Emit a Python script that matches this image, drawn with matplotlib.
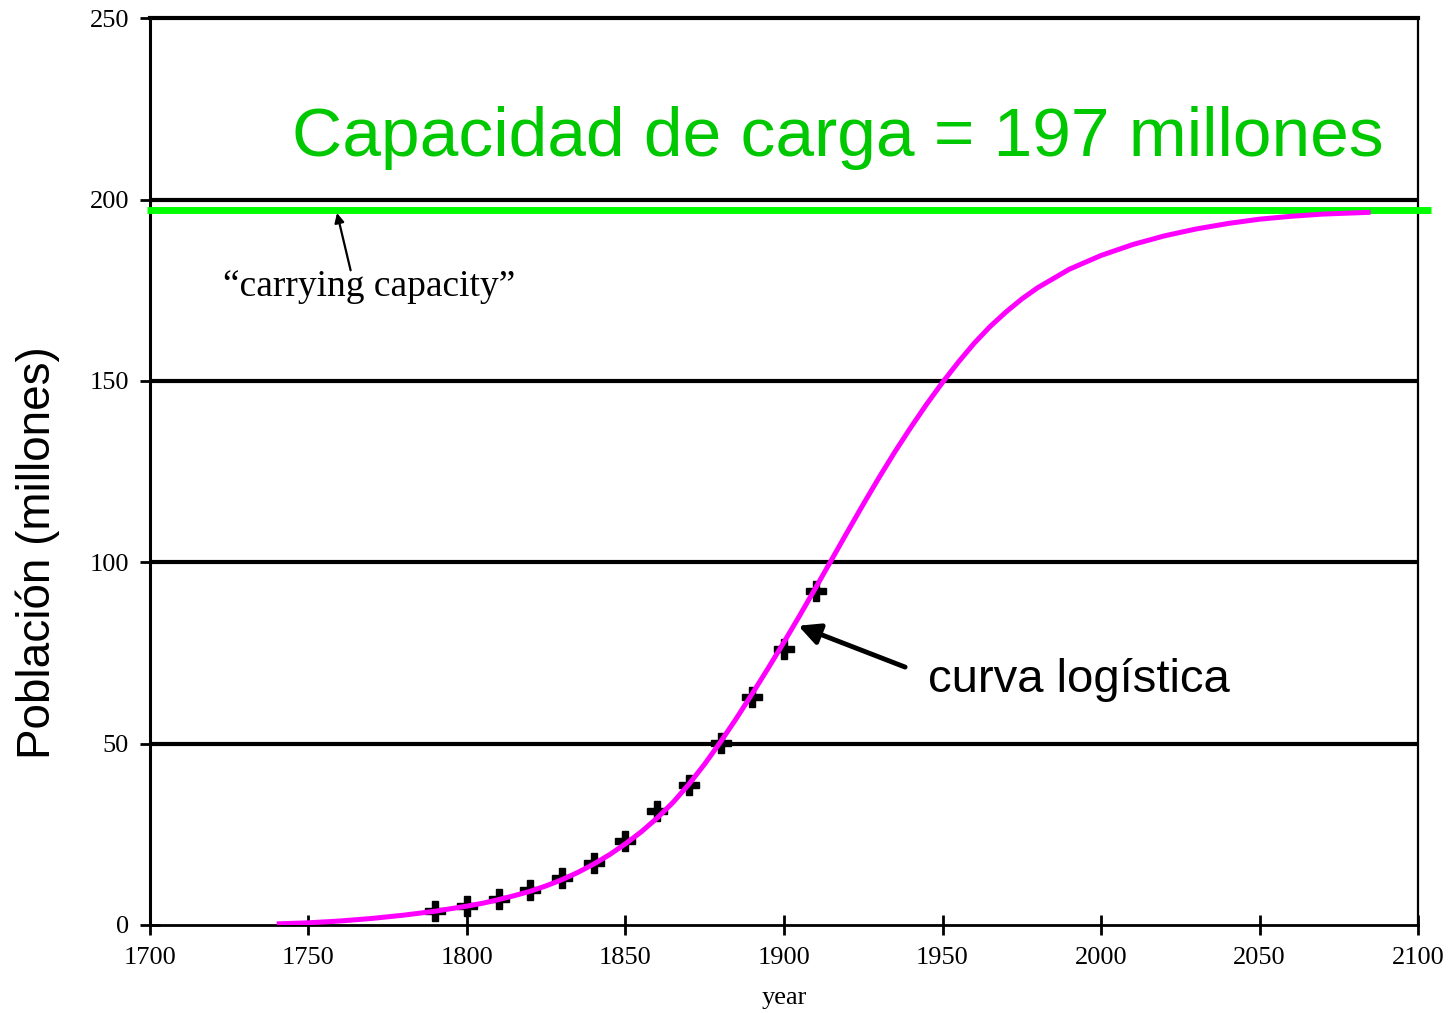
import matplotlib

matplotlib.use("Agg")
import matplotlib.pyplot as plt

# US census points (millions) and the fitted logistic curve
census_years = [1790, 1800, 1810, 1820, 1830, 1840, 1850, 1860, 1870, 1880, 1890, 1900, 1910]
census_pop = [3.9, 5.3, 7.2, 9.6, 12.9, 17.1, 23.2, 31.4, 38.6, 50.2, 62.9, 76.0, 92.0]

curve_years = [1740, 1750, 1760, 1770, 1780, 1790, 1800, 1805, 1810, 1815, 1820, 1825,
               1830, 1835, 1840, 1845, 1850, 1855, 1860, 1865, 1870, 1875, 1880, 1885,
               1890, 1895, 1900, 1905, 1910, 1915, 1920, 1925, 1930, 1935, 1940, 1945,
               1950, 1955, 1960, 1965, 1970, 1975, 1980, 1990, 2000, 2010, 2020, 2030,
               2040, 2050, 2060, 2070, 2085]
curve_pop = [0.3, 0.6, 1.1, 1.8, 2.7, 3.8, 5.2, 6.0, 7.0, 8.1, 9.3, 10.8,
             12.5, 14.5, 16.8, 19.4, 22.4, 25.7, 29.5, 33.8, 38.8, 44.4, 50.5, 57.0,
             63.8, 70.8, 78.0, 85.4, 93.0, 100.7, 108.4, 116.0, 123.4, 130.5, 137.2, 143.6,
             149.6, 155.2, 160.4, 165.0, 169.0, 172.6, 175.7, 180.8, 184.6, 187.6, 190.0, 191.9,
             193.4, 194.6, 195.4, 196.0, 196.5]

capacity = 197
capacity_span = [1699, 2104]
gridlines = [50, 100, 150, 200]
xticks = [1700, 1750, 1800, 1850, 1900, 1950, 2000, 2050, 2100]
yticks = [0, 50, 100, 150, 200, 250]

SERIF = ["Liberation Serif", "DejaVu Serif"]
SANS = ["Liberation Sans", "DejaVu Sans"]
GREEN_TEXT = "#00C800"
GREEN_LINE = "#00FF00"
MAGENTA = "#FF00FF"

fig = plt.figure(figsize=(14.5, 10.13), dpi=100)
ax = fig.add_axes([0.1034, 0.0869, 0.8746, 0.8951])
ax.set_xlim(1700, 2100)
ax.set_ylim(0, 250)

for g in gridlines:
    ax.axhline(g, color="black", linewidth=3.0, zorder=1)

ax.spines["top"].set_linewidth(3.0)
ax.spines["left"].set_linewidth(2.2)
ax.spines["right"].set_linewidth(1.6)
ax.spines["bottom"].set_linewidth(2.0)

ax.plot(capacity_span, [capacity, capacity], color=GREEN_LINE, linewidth=5.0,
        solid_capstyle="butt", clip_on=False, zorder=3)

ax.plot(census_years, census_pop, linestyle="none", marker="P", markersize=14,
        color="black", zorder=4)
ax.plot(curve_years, curve_pop, color=MAGENTA, linewidth=3.6, solid_capstyle="butt",
        solid_joinstyle="round", zorder=5)

ax.set_xticks(xticks)
ax.set_yticks(yticks)
ax.set_xticklabels([str(t) for t in xticks], family=SERIF, fontsize=19)
ax.set_yticklabels([str(t) for t in yticks], family=SERIF, fontsize=19)
ax.tick_params(axis="both", direction="inout", length=14, width=2.0, colors="black")
ax.tick_params(axis="x", pad=9)
ax.tick_params(axis="y", pad=8)

ax.set_xlabel("year", family=SERIF, fontsize=19, labelpad=13)
ax.set_ylabel("Población (millones)", family=SANS, fontsize=33)
ax.yaxis.set_label_coords(-0.071, 0.411)

ax.text(2089, 217, "Capacidad de carga = 197 millones", family=SANS, fontsize=50,
        color=GREEN_TEXT, ha="right", va="center", zorder=6)

ax.text(1769, 176, "\u201ccarrying capacity\u201d", family=SERIF, fontsize=27,
        ha="center", va="center")
ax.annotate("", xy=(1759, 196.3), xytext=(1763.3, 180.5),
            arrowprops=dict(arrowstyle="-|>", color="black", lw=1.6,
                            mutation_scale=14, shrinkA=0, shrinkB=0))

ax.text(1945.5, 67.5, "curva logística", family=SANS, fontsize=34,
        ha="left", va="center")
ax.annotate("", xy=(1904.5, 82.5), xytext=(1938.2, 71.1),
            arrowprops=dict(arrowstyle="-|>", color="black", lw=3.5,
                            mutation_scale=32, shrinkA=0, shrinkB=0))

fig.savefig("out.png", dpi=100)
